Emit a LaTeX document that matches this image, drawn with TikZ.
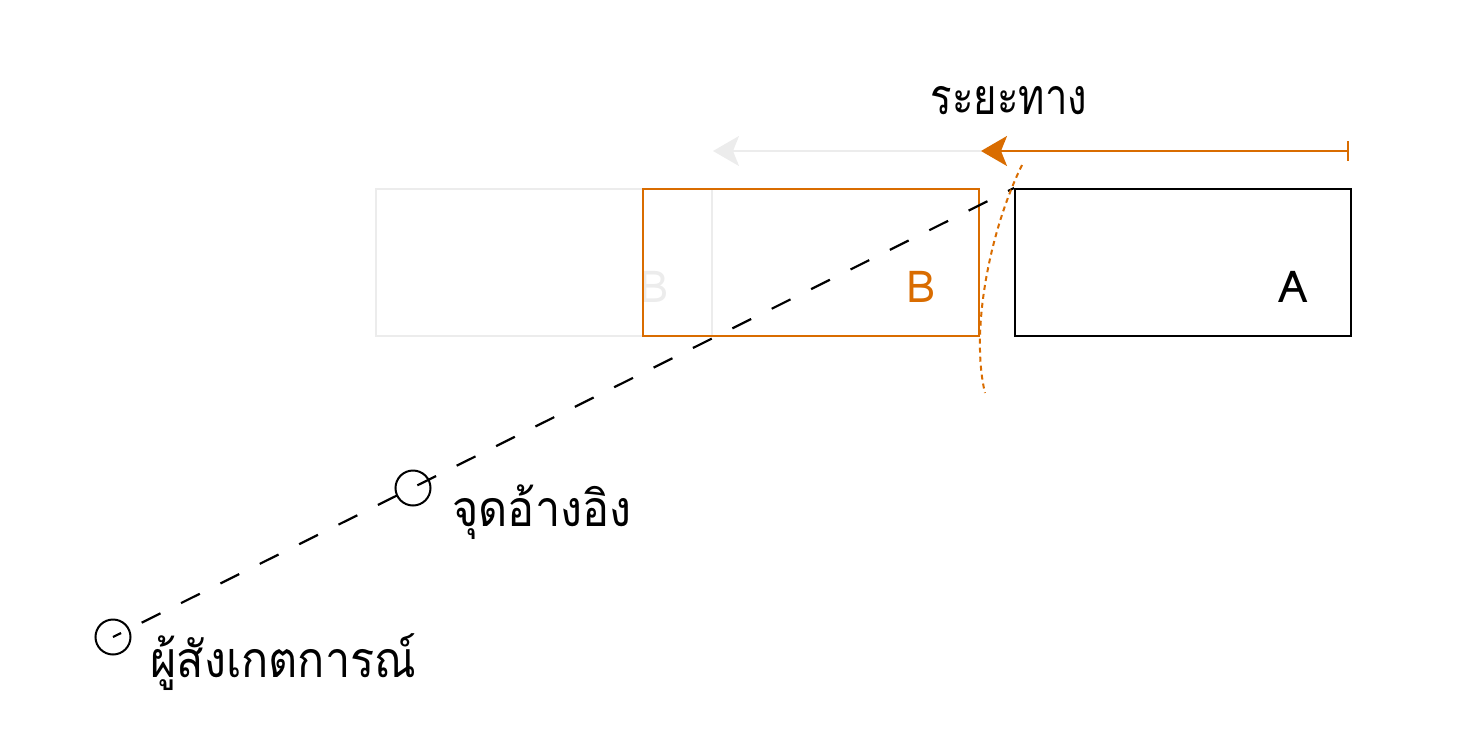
\documentclass[tikz,border=0pt]{standalone}
\usepackage{fontspec}
\setmainfont[Script=Thai]{Loma}
\newfontfamily\thainarrow[Script=Thai, FakeStretch=0.9]{Loma}
\newfontfamily\thaitight[Script=Thai, FakeStretch=0.8]{Loma}
\usetikzlibrary{positioning,arrows.meta}

\definecolor{orng}{RGB}{217,108,0}
\definecolor{fade}{RGB}{236,236,236}

\tikzset{
  box/.style={draw, line width=1pt, minimum width=168pt, minimum height=73.5pt, inner sep=0pt},
  lbl/.style={font=\fontsize{22}{24}\selectfont, inner sep=0pt},
  thai/.style={font=\thainarrow\fontsize{25}{28}\selectfont, inner sep=0pt},
  dot/.style={draw, circle, line width=1pt, minimum size=17.5pt, inner sep=0pt},
  sight/.style={line width=1.1pt, dash pattern=on 10.5pt off 11.5pt, dash phase=6pt},
  tip/.style={-{Stealth[length=13pt, width=15pt, inset=3pt]}},
}

\begin{document}
\begin{tikzpicture}[x=0.5pt, y=-0.5pt]
  \useasboundingbox (0,0) rectangle (1464,751);

  % Define nodes
  \node[box, draw=fade]  (old)  at (544,262.5) {};
  \node[lbl, text=fade, anchor=base] (oldB) at ([xshift=55pt]old.center |- 0,302) {B};
  \node[box, draw=orng]  (boxB) at (811,262.5) {};
  \node[lbl, text=orng, anchor=base] (lblB) at ([xshift=55pt]boxB.center |- 0,302) {B};
  \node[box, right=17pt of boxB] (boxA) {};
  \node[lbl, anchor=base] (lblA) at ([xshift=55pt]boxA.center |- 0,302) {A};

  \node[dot] (obs) at (113,637) {};
  \node[dot] (ref) at (413,488) {};
  \node[thai, anchor=base west] (obsT) at (150,677) {ผู้สังเกตการณ์};
  \node[thai, anchor=base west] (refT) at (452,526) {จุดอ้างอิง};
  \node[thai, font=\thaitight\fontsize{25}{28}\selectfont, anchor=base] (dist) at (1009,114) {ระยะทาง};

  \coordinate (dstart) at (1349,151);
  \coordinate (dend)   at (981,151);
  \coordinate (gend)   at (713,151);
  \coordinate (arcTop) at (1022,165);
  \coordinate (arcBot) at (985,393);

  % Connect the nodes
  \draw[fade, line width=1pt, tip] (dend) -- (gend);
  \draw[orng, line width=1pt, {Bar[width=10pt]}-{Stealth[length=13pt, width=15pt, inset=3pt]}] (dstart) -- (dend);
  \draw[sight] (obs.center) -- (boxA.north west);
  \draw[orng, line width=1pt, dash pattern=on 2.5pt off 2pt]
    (arcTop) .. controls (990,230) and (970,330) .. (arcBot);

\end{tikzpicture}
\end{document}
